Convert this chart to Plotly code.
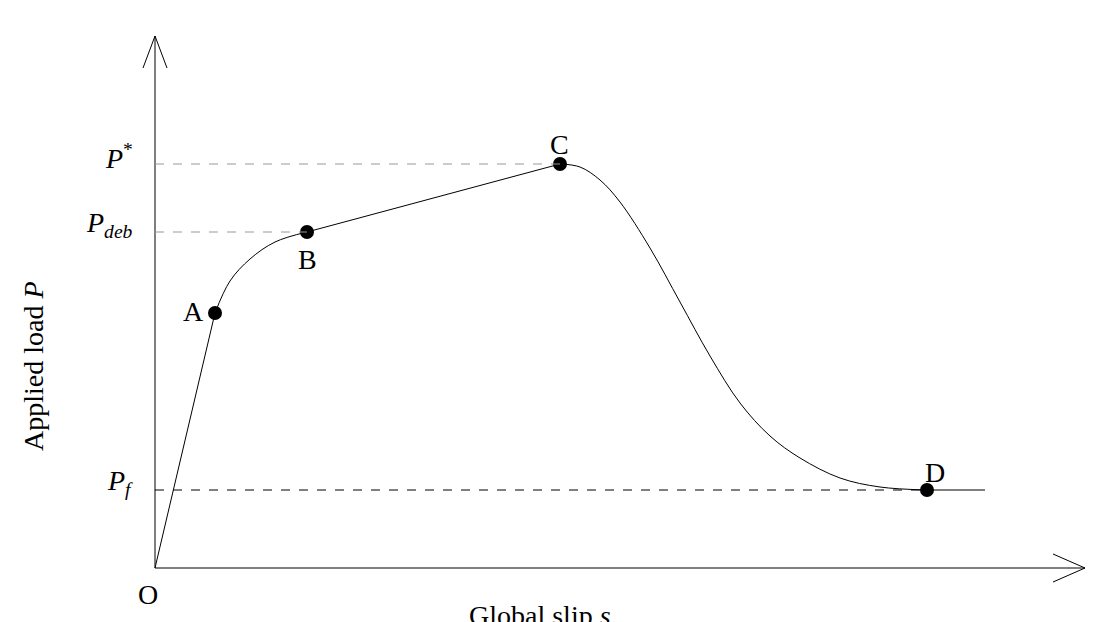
import plotly.graph_objects as go

# schematic values (x = slip, y = load)
pts_name = ["A", "B", "C", "D"]
pts_x = [60, 152, 405, 772]
pts_y = [255, 336, 404, 78]
lin_x = [0, 60]
lin_y = [0, 255]
ab_x = [60, 75, 95, 120, 152]
ab_y = [255, 287, 309, 326, 336]
bc_x = [152, 405]
bc_y = [336, 404]
cd_x = [405, 425, 445, 465, 495, 525, 555, 585, 615, 645, 685, 725, 772]
cd_y = [404, 401, 388, 366, 320, 266, 212, 165, 132, 110, 90, 81, 78]
de_x = [772, 830]
de_y = [78, 78]
levels = {"Pstar": 404, "Pdeb": 336, "Pf": 78}

F = "Liberation Serif"
fig = go.Figure()
line = dict(color="black", width=1)
fig.add_trace(go.Scatter(x=lin_x, y=lin_y, mode="lines", line=line))
fig.add_trace(go.Scatter(x=ab_x, y=ab_y, mode="lines", line=dict(color="black", width=1, shape="spline")))
fig.add_trace(go.Scatter(x=bc_x, y=bc_y, mode="lines", line=line))
fig.add_trace(go.Scatter(x=cd_x, y=cd_y, mode="lines", line=dict(color="black", width=1, shape="spline")))
fig.add_trace(go.Scatter(x=de_x, y=de_y, mode="lines", line=line))
fig.add_trace(go.Scatter(x=pts_x, y=pts_y, mode="markers", marker=dict(color="black", size=14)))

shapes = []
shapes.append(dict(type="line", x0=0, y0=0, x1=0, y1=532, line=line))
shapes.append(dict(type="line", x0=-12, y0=500, x1=0, y1=532, line=line))
shapes.append(dict(type="line", x0=12, y0=500, x1=0, y1=532, line=line))
shapes.append(dict(type="line", x0=0, y0=0, x1=930, y1=0, line=line))
shapes.append(dict(type="line", x0=898, y0=14, x1=930, y1=0, line=line))
shapes.append(dict(type="line", x0=898, y0=-14, x1=930, y1=0, line=line))
shapes.append(dict(type="line", x0=0, y0=levels["Pstar"], x1=pts_x[2], y1=levels["Pstar"], line=dict(color="#999", width=1, dash="dash")))
shapes.append(dict(type="line", x0=0, y0=levels["Pdeb"], x1=pts_x[1], y1=levels["Pdeb"], line=dict(color="#999", width=1, dash="dash")))
shapes.append(dict(type="line", x0=0, y0=levels["Pf"], x1=pts_x[3], y1=levels["Pf"], line=dict(color="black", width=1, dash="dash")))

ann = []
def A(x, y, t, size=28, **kw):
    ann.append(dict(x=x, y=y, text=t, showarrow=False, font=dict(family=F, size=size, color="black"), **kw))
A(pts_x[0]-22, pts_y[0]+2, "A")
A(pts_x[1], pts_y[1]-27, "B")
A(pts_x[2]-1, pts_y[2]+20, "C")
A(pts_x[3]+8, pts_y[3]+18, "D")
A(-7, -26, "O")
A(-20, levels["Pstar"]+8, "<i>P</i><sup>*</sup>", xanchor="right")
A(-20, levels["Pdeb"]+8, "<i>P<sub>deb</sub></i>", xanchor="right")
A(-20, levels["Pf"]+8, "<i>P<sub>f</sub></i>", xanchor="right")
A(385, -47, "Global slip <i>s</i>")
A(-122, 202, "Applied load <i>P</i>", textangle=-90)

fig.update_layout(width=1102, height=622, margin=dict(l=0, r=0, t=0, b=0),
                  paper_bgcolor="white", plot_bgcolor="white", showlegend=False,
                  xaxis=dict(range=[-147, 955], visible=False),
                  yaxis=dict(range=[-62, 560], visible=False),
                  shapes=shapes, annotations=ann)
fig.write_html("out.html")
